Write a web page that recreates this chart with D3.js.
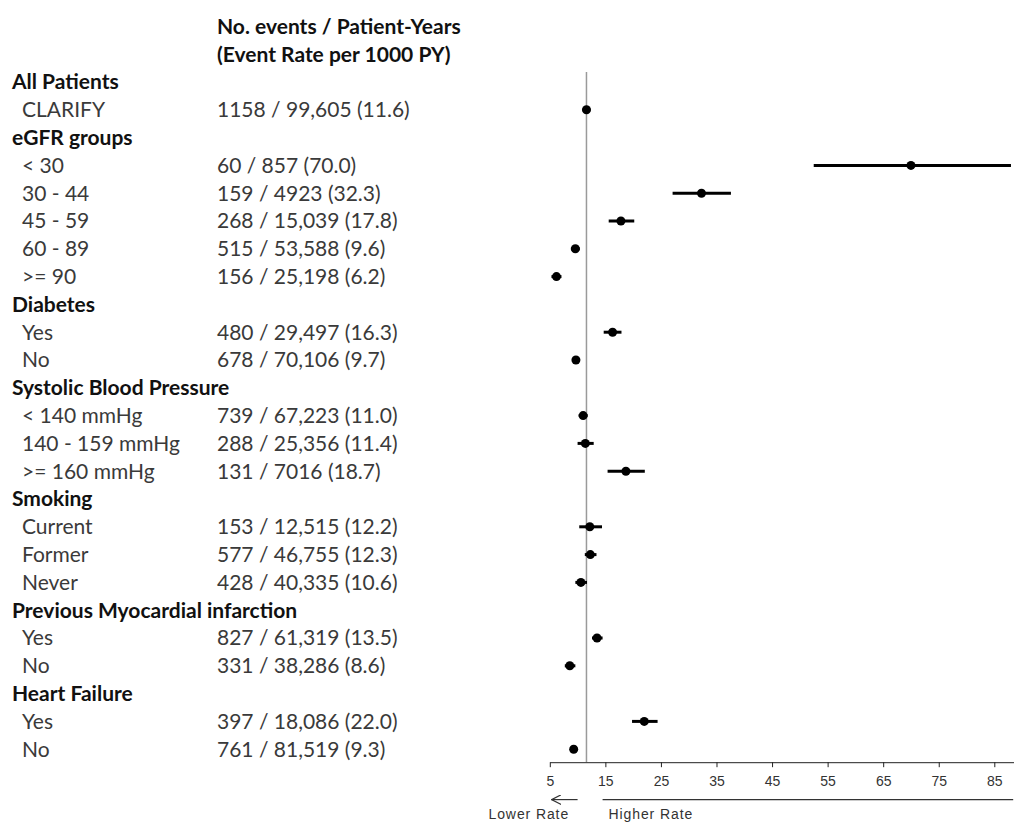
<!DOCTYPE html>
<html lang="en">
<head>
    <meta charset="UTF-8">
    <title>Event rate by subgroup</title>
    <script src="https://cdnjs.cloudflare.com/ajax/libs/d3/7.8.5/d3.min.js"></script>
    <style>
        body {
            margin: 0;
            background: #fff;
        }

        .table-text {
            font-family: Lato, "Open Sans", sans-serif;
            font-size: 21px;
            fill: #3a3a3a;
        }

        .table-head {
            font-weight: bold;
            fill: #111;
        }

        .axis text {
            font-family: "Liberation Sans", Arial, sans-serif;
            font-size: 14px;
            fill: #333;
        }

        .axis path,
        .axis line {
            stroke: #222;
        }

        .rate-label {
            font-family: "Liberation Sans", Arial, sans-serif;
            font-size: 14px;
            letter-spacing: 0.9px;
            fill: #333;
        }
    </style>
</head>
<body>
    <div class="chart"></div>

    <script>
        // rows of the table, top to bottom (headers included)
        const labels = [
            "All Patients", "CLARIFY",
            "eGFR groups", "< 30", "30 - 44", "45 - 59", "60 - 89", ">= 90",
            "Diabetes", "Yes", "No",
            "Systolic Blood Pressure", "< 140 mmHg", "140 - 159 mmHg", ">= 160 mmHg",
            "Smoking", "Current", "Former", "Never",
            "Previous Myocardial infarction", "Yes", "No",
            "Heart Failure", "Yes", "No"
        ];
        const headers = ["All Patients", "eGFR groups", "Diabetes", "Systolic Blood Pressure",
            "Smoking", "Previous Myocardial infarction", "Heart Failure"];

        const events = [null, 1158, null, 60, 159, 268, 515, 156, null, 480, 678,
            null, 739, 288, 131, null, 153, 577, 428, null, 827, 331, null, 397, 761];
        const patientYears = [null, 99605, null, 857, 4923, 15039, 53588, 25198, null, 29497, 70106,
            null, 67223, 25356, 7016, null, 12515, 46755, 40335, null, 61319, 38286, null, 18086, 81519];
        const rates = [null, 11.6, null, 70.0, 32.3, 17.8, 9.6, 6.2, null, 16.3, 9.7,
            null, 11.0, 11.4, 18.7, null, 12.2, 12.3, 10.6, null, 13.5, 8.6, null, 22.0, 9.3];
        // confidence limits
        const lower = [null, 10.9, null, 52.5, 27.1, 15.6, 8.8, 5.3, null, 14.7, 9.0,
            null, 10.2, 10.0, 15.4, null, 10.3, 11.3, 9.6, null, 12.6, 7.7, null, 19.8, 8.7];
        const upper = [null, 12.3, null, 88.0, 37.6, 20.2, 10.4, 7.1, null, 17.9, 10.4,
            null, 11.8, 12.9, 22.1, null, 14.4, 13.4, 11.7, null, 14.5, 9.6, null, 24.4, 9.9];

        const headerLines = ["No. events / Patient-Years", "(Event Rate per 1000 PY)"];
        const xTicks = [5, 15, 25, 35, 45, 55, 65, 75, 85];
        const overallRate = 11.6;

        const W = 1014, H = 823;
        const svg = d3.select(".chart")
            .append("svg")
            .attr("width", W)
            .attr("height", H);

        const y = d3.scaleLinear().domain([0, labels.length - 1]).range([82, 749.2]);
        const x = d3.scaleLinear().domain([5, 88.6]).range([549.8, 1014.3]);
        const axisY = y(labels.length - 1) + 13;

        const rows = labels.map((d, i) => ({
            label: d,
            head: headers.includes(d),
            events: events[i],
            py: patientYears[i],
            rate: rates[i],
            lo: lower[i],
            hi: upper[i],
            i: i
        }));

        const fmtPY = n => n >= 10000 ? d3.format(",")(n) : String(n);

        // table column headings
        svg.selectAll(".col-head")
            .data(headerLines)
            .enter()
            .append("text")
            .attr("class", "table-text table-head col-head")
            .attr("x", 217)
            .attr("y", (d, i) => y(i - 2))
            .attr("dy", "0.35em")
            .text(d => d);

        svg.selectAll(".row-label")
            .data(rows)
            .enter()
            .append("text")
            .attr("class", d => "table-text row-label" + (d.head ? " table-head" : ""))
            .attr("x", d => d.head ? 12 : 22)
            .attr("y", d => y(d.i))
            .attr("dy", "0.35em")
            .text(d => d.label);

        svg.selectAll(".row-value")
            .data(rows.filter(d => d.events != null))
            .enter()
            .append("text")
            .attr("class", "table-text row-value")
            .attr("x", 217)
            .attr("y", d => y(d.i))
            .attr("dy", "0.35em")
            .text(d => `${d.events} / ${fmtPY(d.py)} (${d.rate.toFixed(1)})`);

        // reference line at the overall rate
        svg.append("line")
            .attr("x1", x(overallRate))
            .attr("x2", x(overallRate))
            .attr("y1", y(0) - 10)
            .attr("y2", axisY)
            .attr("stroke", "#9a9a9a")
            .attr("stroke-width", 1.5);

        const pts = rows.filter(d => d.rate != null);

        svg.selectAll(".ci")
            .data(pts)
            .enter()
            .append("line")
            .attr("class", "ci")
            .attr("x1", d => x(d.lo))
            .attr("x2", d => x(d.hi))
            .attr("y1", d => y(d.i))
            .attr("y2", d => y(d.i))
            .attr("stroke", "#000")
            .attr("stroke-width", 3);

        svg.selectAll(".dot")
            .data(pts)
            .enter()
            .append("circle")
            .attr("class", "dot")
            .attr("cx", d => x(d.rate))
            .attr("cy", d => y(d.i))
            .attr("r", 4.5)
            .attr("fill", "#000");

        svg.append("g")
            .attr("class", "axis")
            .attr("transform", `translate(0,${axisY})`)
            .call(d3.axisBottom(x).tickValues(xTicks).tickSize(5).tickSizeOuter(0).tickPadding(6))
            .call(g => g.selectAll(".tick text").attr("dy", "0.9em"));

        // direction arrows under the axis
        const arrowY = 799.6;
        svg.append("defs").append("marker")
            .attr("id", "head")
            .attr("viewBox", "0 0 10 10")
            .attr("refX", 0).attr("refY", 5)
            .attr("markerWidth", 10).attr("markerHeight", 10)
            .attr("markerUnits", "userSpaceOnUse")
            .attr("orient", "auto")
            .append("path")
            .attr("d", "M10,0 L0,5 L10,10")
            .attr("fill", "none")
            .attr("stroke", "#333")
            .attr("stroke-width", 1.2);

        svg.append("line")
            .attr("x1", x(5.3)).attr("x2", x(10))
            .attr("y1", arrowY).attr("y2", arrowY)
            .attr("stroke", "#333")
            .attr("stroke-width", 1.2)
            .attr("marker-start", "url(#head)");

        svg.append("line")
            .attr("x1", x(14.5)).attr("x2", x(88.4))
            .attr("y1", arrowY).attr("y2", arrowY)
            .attr("stroke", "#333")
            .attr("stroke-width", 1.2);

        svg.append("text")
            .attr("class", "rate-label")
            .attr("x", 488.5)
            .attr("y", 819)
            .text("Lower Rate");

        svg.append("text")
            .attr("class", "rate-label")
            .attr("x", 608.5)
            .attr("y", 819)
            .text("Higher Rate");
    </script>
</body>
</html>
